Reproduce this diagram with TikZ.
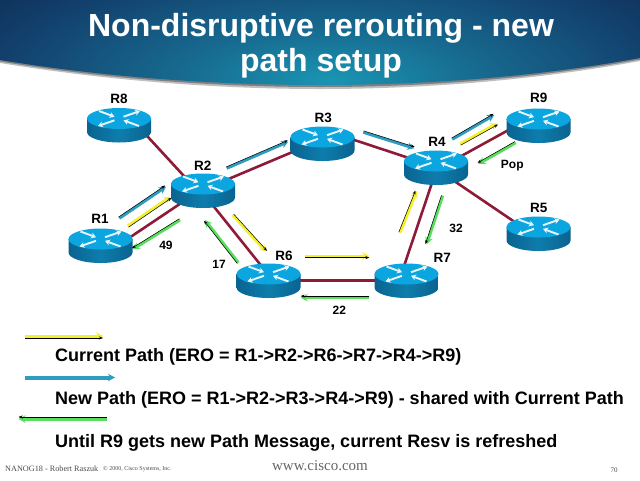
\documentclass[tikz,border=0pt]{standalone}
\usepackage{fontspec}
\setmainfont{Liberation Sans}
\newfontfamily\foot{Liberation Serif}
\usetikzlibrary{arrows.meta}
\definecolor{rtop}{HTML}{0BA5E0}
\definecolor{rside}{HTML}{0E7DAC}
\definecolor{rsidedark}{HTML}{0A6390}
\definecolor{linkred}{HTML}{8E1A38}
\definecolor{fyellow}{HTML}{F4F02E}
\definecolor{fblue}{HTML}{2F9CC0}
\definecolor{fgreen}{HTML}{58DE5C}
\definecolor{bannA}{HTML}{1A95B2}
\definecolor{bannB}{HTML}{17698F}
\definecolor{bannC}{HTML}{123F6C}
\definecolor{bannD}{HTML}{0A2345}
\pgfdeclareradialshading{bann}{\pgfpoint{0bp}{0bp}}{color(0bp)=(bannA);color(11bp)=(bannB);color(24bp)=(bannC);color(36bp)=(bannD);color(50bp)=(bannD)}
\tikzset{
  link/.style={draw=linkred,line width=2.6pt},
  lbl/.style={font=\bfseries\fontsize{13.5}{14}\selectfont,text=black,inner sep=0pt},
  numlbl/.style={font=\bfseries\fontsize{12}{14}\selectfont,text=black,inner sep=0pt},
  legendtext/.style={font=\bfseries\fontsize{18}{18}\selectfont,text=black,inner sep=0pt,anchor=west},
  flowline/.style={line width=3pt,-{Stealth[length=7pt,width=7.5pt]}},
  flowshade/.style={line width=0.5pt,black,-{Stealth[length=4pt,width=3pt]}},
}
% \flowarrow{name}{colour}{x1,y1}{x2,y2}{shadow dx,dy}
\newcommand{\flowarrow}[5]{%
  \coordinate (#1a) at (#3);\coordinate (#1b) at (#4);
  \draw[flowline,#2] (#1a) -- (#1b);
  \draw[flowshade] ([shift={(#5)}]#1a) -- ([shift={(#5)}]#1b);
}
% \routericon{name}
\newcommand{\routericon}[1]{%
  \begin{scope}[shift={(#1)}]
    \path[left color=rsidedark,right color=rsidedark,middle color=rside]
      (-32,0) -- (-32,13.5) arc[start angle=180,end angle=0,x radius=32,y radius=10.5] -- (32,0) -- cycle;
    \fill[rtop] (0,0) ellipse[x radius=32,y radius=10.5];
    \foreach \a/\b/\c/\d in {-20/-7.5/-4.5/-1.8, 20/7.5/4.5/1.8, 4.5/-1.8/21/-7.5, -4.5/1.8/-21/7.5}{
      \draw[line width=1.9pt,white!90!rtop,-{Stealth[length=5pt,width=6pt]}] (\a,\b) -- (\c,\d);
    }
  \end{scope}
}
\newcommand{\netlink}[4]{\draw[link] ([shift={(#2)}]#1) -- ([shift={(#4)}]#3);}
\begin{document}
\begin{tikzpicture}[x=1pt,y=-1pt]
\useasboundingbox (0,0) rectangle (640,480);
\fill[white] (0,0) rectangle (640,480);
% banner
\fill[black!25] (0,63) .. controls (110,81) and (220,89) .. (320,89) .. controls (420,89) and (530,81) .. (640,61) -- (640,40) -- (0,40) -- cycle;
\fill[black!50] (0,61.5) .. controls (110,79.5) and (220,87) .. (320,87) .. controls (420,87) and (530,79.5) .. (640,59.5) -- (640,40) -- (0,40) -- cycle;
\begin{scope}
  \clip (0,0) -- (640,0) -- (640,58) .. controls (530,78) and (420,85) .. (320,85) .. controls (220,85) and (110,78) .. (0,60) -- cycle;
  \path[shading=bann] (-20,-40) rectangle (680,200);
\end{scope}
\node[name=title,font=\bfseries\fontsize{32}{35}\selectfont,text=white,align=center,inner sep=0pt] at (321,46) {Non-disruptive rerouting - new\\path setup};
% router positions
\coordinate (r8) at (119,118.5);
\coordinate (r2) at (203,184);
\coordinate (r1) at (100.5,239);
\coordinate (r6) at (268.5,274);
\coordinate (r3) at (322.5,137);
\coordinate (r4) at (436,161);
\coordinate (r9) at (538.5,119);
\coordinate (r5) at (538.5,227);
\coordinate (r7) at (406.5,274);
% links
\netlink{r8}{25.6,14.8}{r2}{-16.6,-5.3}
\netlink{r1}{27.3,-0.2}{r2}{-22.1,19.2}
\netlink{r2}{22.4,-3.7}{r3}{-27.2,13.8}
\netlink{r2}{9.9,21.4}{r6}{-6.1,-6.8}
\netlink{r3}{27,1.4}{r4}{-26.2,-2.7}
\netlink{r4}{24.6,-4.6}{r9}{-27.4,9.6}
\netlink{r4}{17.5,19.5}{r5}{-22.6,-4.2}
\netlink{r4}{-3.4,20}{r7}{-3.1,-6}
\netlink{r6}{20,6.3}{r7}{-20,6.3}
% routers
\foreach \r in {r8,r2,r1,r6,r3,r4,r9,r5,r7}{\routericon{\r}}
% flows
\flowarrow{fa}{fblue}{119.3,218.3}{166,186.7}{-0.8,-1.2}
\flowarrow{fb}{fyellow}{127.7,226}{170.7,196.7}{0.8,1.2}
\flowarrow{fc}{fgreen}{180,220}{132.7,249.3}{-0.7,-1.2}
\flowarrow{fd}{fblue}{226.7,168.3}{288.3,141.7}{-0.6,-1.3}
\flowarrow{fe}{fyellow}{232.7,215}{266,251.7}{1,-0.9}
\flowarrow{ff}{fgreen}{238.3,262.7}{205,220}{-1,0.8}
\flowarrow{fg}{fyellow}{305,256}{369.3,256}{0,1.6}
\flowarrow{fh}{fgreen}{369.3,297.7}{300.7,297.7}{0,-1.6}
\flowarrow{fi}{fblue}{363.3,132.3}{414.3,148.3}{0.4,-1.4}
\flowarrow{fj}{fblue}{452.3,139.3}{494.3,115}{-0.7,-1.2}
\flowarrow{fk}{fyellow}{460,144}{497.3,123.3}{0.7,1.2}
\flowarrow{fl}{fgreen}{515.7,142.7}{478.3,164}{-0.7,-1.2}
\flowarrow{fm}{fyellow}{400,232.7}{416.7,191}{-1.2,-0.5}
\flowarrow{fn}{fgreen}{442.7,195.7}{426.7,244.3}{-1.2,-0.4}
% labels
\node[lbl] (l8) at (119,99.3) {R8};
\node[lbl] (l2) at (202.7,165.7) {R2};
\node[lbl] (l1) at (100,219.3) {R1};
\node[lbl] (l6) at (284,255.7) {R6};
\node[lbl] (l3) at (323.3,117.7) {R3};
\node[lbl] (l4) at (437,141.7) {R4};
\node[lbl] (l9) at (538.7,98.3) {R9};
\node[lbl] (l5) at (538.7,208.3) {R5};
\node[lbl] (l7) at (442.3,257.7) {R7};
\node[numlbl] (n49) at (166,245.7) {49};
\node[numlbl] (n17) at (219,264) {17};
\node[numlbl] (n32) at (456,228.3) {32};
\node[numlbl] (n22) at (339.3,310.7) {22};
\node[numlbl] (npop) at (512.3,165.3) {Pop};
% legend
\flowarrow{ka}{fyellow}{25,336}{103,336}{0,2}
\coordinate (kba) at (25,377.5);\coordinate (kbb) at (115,377.5);
\draw[flowline,fblue,line width=4pt] (kba) -- (kbb);
\flowarrow{kc}{fgreen}{106.5,419}{18.5,419}{0,-2}
\node[legendtext] (t1) at (55,357) {Current Path (ERO = R1->R2->R6->R7->R4->R9)};
\node[legendtext] (t2) at (55,400) {New Path (ERO = R1->R2->R3->R4->R9) - shared with Current Path};
\node[legendtext] (t3) at (55,443) {Until R9 gets new Path Message, current Resv is refreshed};
% footer
\node[font=\foot\fontsize{8.2}{9}\selectfont,text=black!70,inner sep=0pt,anchor=west] (f1) at (5,469) {NANOG18 - Robert Raszuk};
\node[font=\foot\fontsize{6}{6}\selectfont,text=black!70,inner sep=0pt,anchor=west] (f2) at (103,469) {\char"00A9\ 2000, Cisco Systems, Inc.};
\node[font=\foot\fontsize{15}{15}\selectfont,text=black!60,inner sep=0pt] (f3) at (320,466) {www.cisco.com};
\node[font=\foot\fontsize{7}{8}\selectfont,text=black!70,inner sep=0pt] (f4) at (614,470) {70};
\end{tikzpicture}
\end{document}
